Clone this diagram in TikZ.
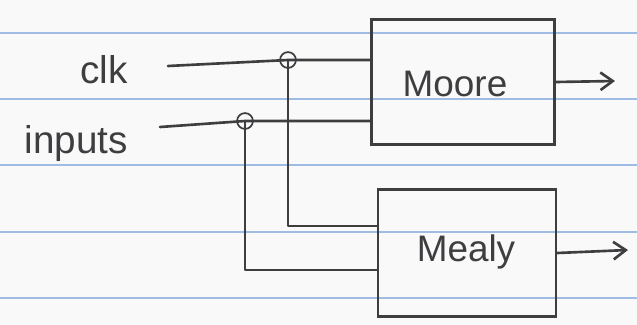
\documentclass[tikz,border=0pt]{standalone}
\usepackage{fontspec}
\setmainfont{Liberation Sans}
\usetikzlibrary{arrows.meta}
\definecolor{paper}{RGB}{249,249,250}
\definecolor{rule}{RGB}{160,188,228}
\definecolor{pen}{RGB}{62,62,64}
\begin{document}
\begin{tikzpicture}[x=0.02cm,y=-0.02cm,
  wire/.style={draw=pen,line width=1.5pt,line cap=round,line join=round},
  blockbox/.style={draw=pen,line width=1.5pt,rectangle,inner sep=0pt,font=\fontsize{21}{24}\selectfont,text=pen},
  lbl/.style={font=\fontsize{22}{26}\selectfont,text=pen,inner sep=0pt},
  junct/.style={draw=pen,line width=1pt,circle,minimum size=9pt,inner sep=0pt},
  outarrow/.style={wire,-{Straight Barb[length=7pt,width=10pt,line width=1.5pt]}},
  ruling/.style={draw=rule,line width=1.1pt}]
\useasboundingbox[fill=paper] (0,0) rectangle (637,325);
% ruled paper lines
\foreach \yy in {33,99,165,232,298}
  \draw[ruling] (0,\yy) -- (637,\yy);
% blocks
\node[blockbox,minimum width=183*0.02cm,minimum height=125*0.02cm,text depth=0pt] (moore) at (463,82) {};
\node[font=\fontsize{21}{24}\selectfont,text=pen,inner sep=0pt] (mooretxt) at (455,84) {Moore};
\node[blockbox,minimum width=178*0.02cm,minimum height=127*0.02cm] (mealy) at (467,253) {};
\node[font=\fontsize{21}{24}\selectfont,text=pen,inner sep=0pt] (mealytxt) at (466,252) {Mealy};
% labels
\node[lbl,anchor=east] (clk) at (128,70) {clk};
\node[lbl,anchor=east] (inputs) at (128,144) {inputs};
% junctions
\node[junct] (j1) at (288,60) {};
\node[junct] (j2) at (245,121) {};
% points on the block edges
\path (moore.west) ++(0,-22) coordinate (mooreA);
\path (moore.west) ++(0,38) coordinate (mooreB);
\path (mealy.west) ++(0,-27) coordinate (mealyA);
\path (mealy.west) ++(0,17) coordinate (mealyB);
\coordinate (clkstart) at (168,66);
\coordinate (instart) at (160,127);
% wires
\draw[wire] (clkstart) -- (j1.center) -- (j1.center -| mooreA);
\draw[wire] (instart) -- (j2.center) -- (j2.center -| mooreB);
\draw[wire] (j1.center) |- (mealyA);
\draw[wire] (j2.center) |- (mealyB);
% outputs
\coordinate (mooreout) at (615,81);
\coordinate (mealyout) at (628,250);
\draw[outarrow] (moore.east) -- (mooreout);
\draw[outarrow] (mealy.east) -- (mealyout);
\end{tikzpicture}
\end{document}
